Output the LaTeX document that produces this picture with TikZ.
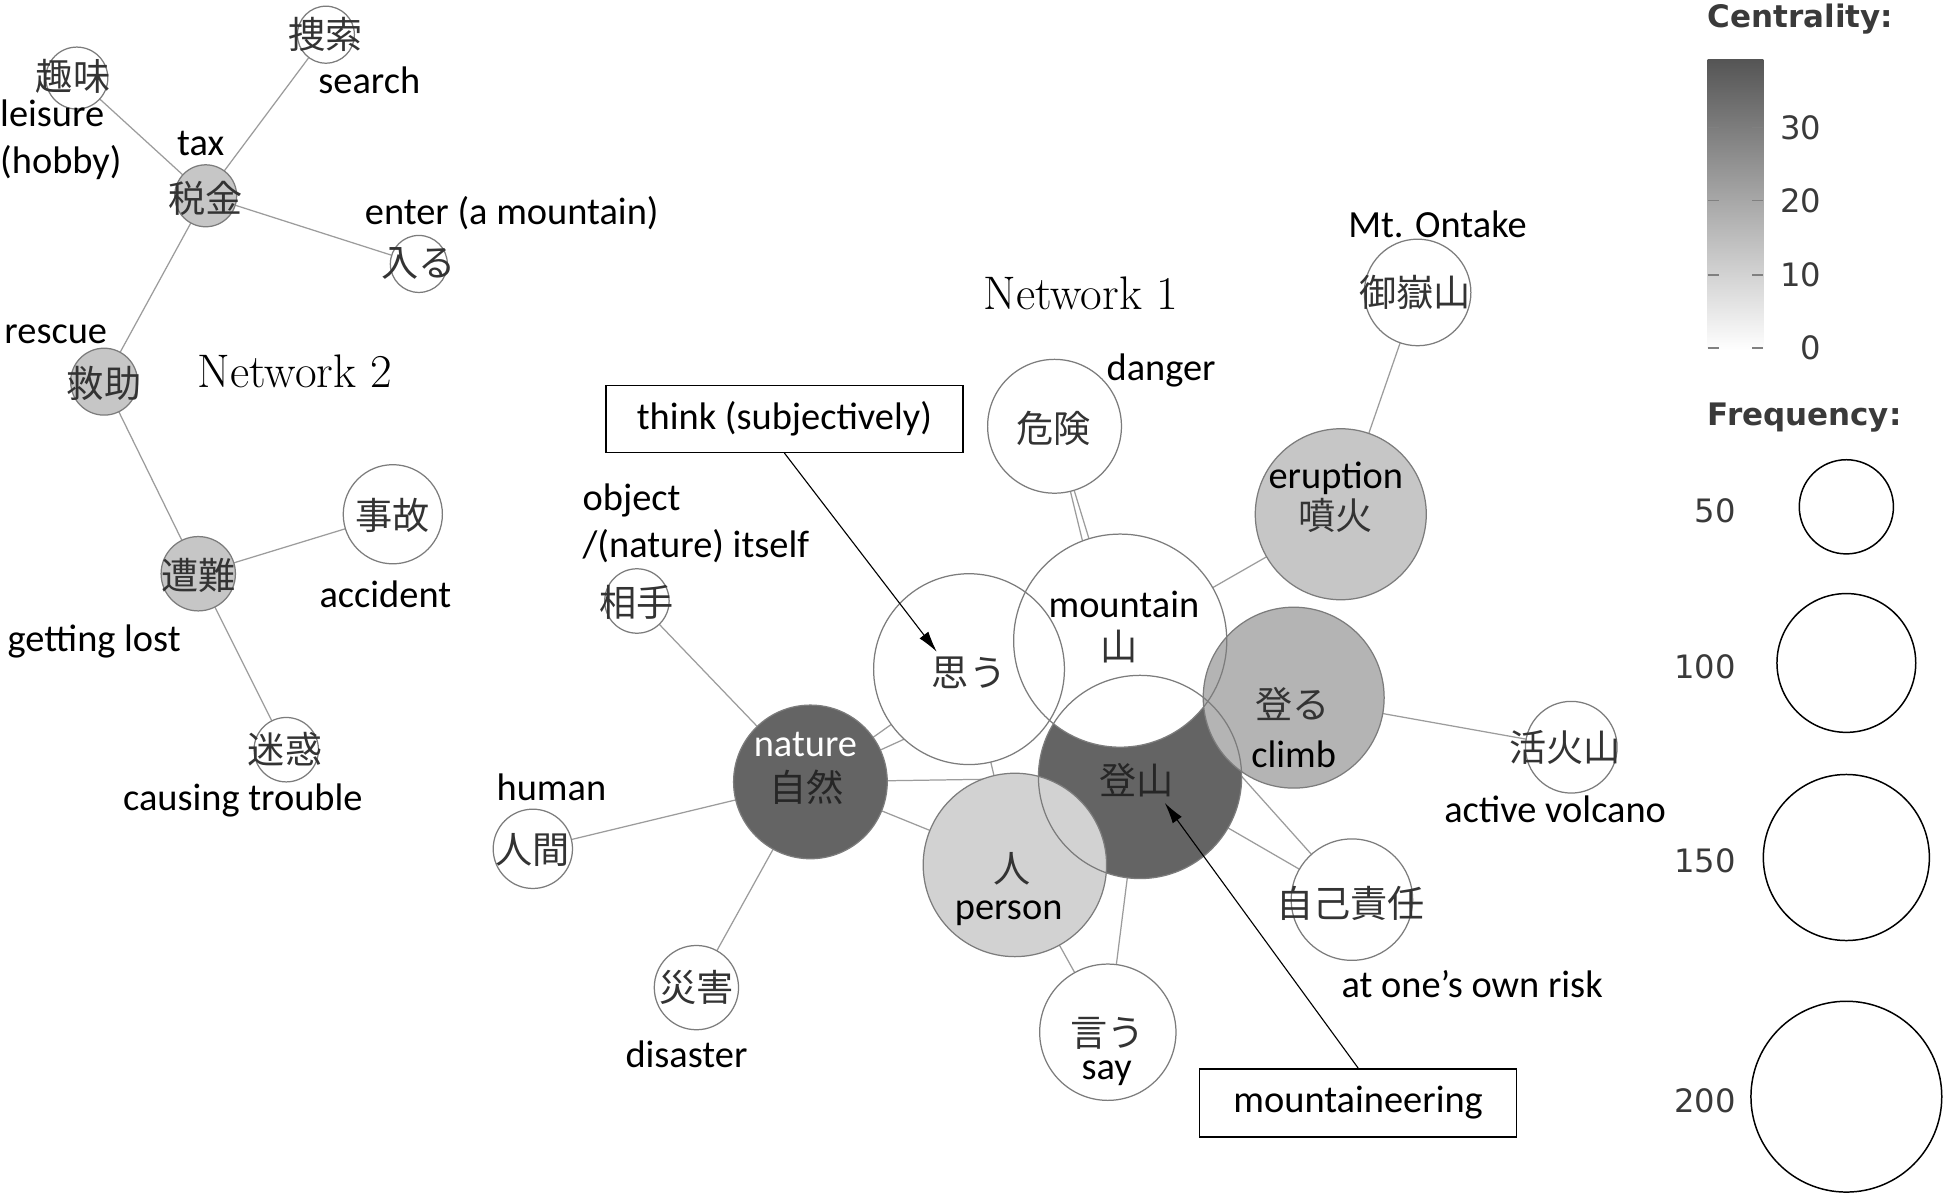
\documentclass[tikz,border=0pt]{standalone}
\usepackage{fontspec}
\usepackage{tikz}
\usetikzlibrary{arrows.meta,backgrounds}

\newfontfamily\enfont{Carlito}
\newfontfamily\jpfont{Noto Sans CJK JP}
\newfontfamily\legfont{DejaVu Sans}

\definecolor{cdark}{HTML}{646464}
\definecolor{cmid}{HTML}{B4B4B4}
\definecolor{clight}{HTML}{C6C6C6}
\definecolor{cpale}{HTML}{D2D2D2}
\definecolor{cring}{HTML}{7C7C7C}
\definecolor{clink}{HTML}{9C9C9C}
\definecolor{cbartop}{HTML}{555555}
\definecolor{clegtext}{HTML}{3A3A3A}

% word circles: name/x/y/radius/fill (later ones lie on top)
\def\wordlist{tozan/920/627/82/cdark, yama/904/517/86/white, omou/782/540/77/white,
  hito/819/698/74/cpale, noboru/1044/563/73/cmid, funka/1082/415/69/clight,
  ontake/1144/236/43/white, kiken/851/344/54/white, shizen/654/631/62/cdark,
  aite/514/485/26/white, ningen/430/685/32/white, saigai/562/797/34/white,
  iu/894/833/55/white, sekinin/1091/726/49/white, kazan/1268/603/37/white,
  sosaku/263/28/23/white, shumi/62/63/25/white, zeikin/166/158/25/clight,
  hairu/338/213/23/white, kyujo/84/308/27/clight, sonan/160/463/30/clight,
  jiko/317/415/40/white, meiwaku/231/605/26/white}

\begin{document}
\begin{tikzpicture}[x=1pt, y=-1pt,
    en/.style={font=\enfont\fontsize{31}{38}\selectfont, inner sep=0pt, align=center},
    jp/.style={font=\jpfont\fontsize{30}{36}\selectfont, inner sep=0pt, text=black!80},
    net/.style={font=\rmfamily\fontsize{38}{44}\selectfont, inner sep=0pt},
    word/.style={circle, inner sep=0pt, minimum size=2*#1},
    ring/.style={draw=cring, line width=1pt},
    link/.style={draw=clink, line width=1pt},
    callbox/.style={en, draw, fill=white, line width=1.2pt, minimum height=54},
    arr/.style={-{Latex[length=17pt, width=9pt]}, line width=0.9pt},
    tick/.style={draw=black!50, line width=1.2pt},
    legnum/.style={font=\legfont\fontsize{26}{30}\selectfont, text=clegtext, inner sep=0pt},
    legtitle/.style={font=\legfont\bfseries\fontsize{25}{30}\selectfont, text=clegtext, inner sep=0pt, anchor=west}]
\useasboundingbox (0,0) rectangle (1568,963);

% fills first, then all the rings on top
\foreach \n/\x/\y/\rad/\col in \wordlist
  \node[word=\rad, fill=\col] (\n) at (\x,\y) {};
\foreach \n/\x/\y/\rad/\col in \wordlist
  \draw[ring] (\x,\y) circle[radius=\rad];

% links behind the circles
\begin{scope}[on background layer]
\fill[white] (0,0) rectangle (1568,963);
\foreach \a/\b in {ontake/funka, kiken/yama, kiken/tozan, funka/yama, aite/shizen,
    ningen/shizen, saigai/shizen, shizen/omou, shizen/yama, shizen/tozan, shizen/hito,
    omou/hito, noboru/kazan, tozan/sekinin, yama/sekinin, tozan/iu, hito/iu,
    zeikin/sosaku, zeikin/shumi, zeikin/hairu, zeikin/kyujo, kyujo/sonan,
    sonan/jiko, sonan/meiwaku}
  \draw[link] (\a) -- (\b);
\end{scope}

% network 2
\node[jp] (w-sosaku) at (263,28) {捜索};
\node[en] (l-sosaku) at (298,65) {search};
\node[jp] (w-shumi) at (59,62) {趣味};
\node[en, align=left, anchor=west] (l-shumi) at (0,113) {leisure\\(hobby)};
\node[en] (l-zeikin) at (162,116) {tax};
\node[jp] (w-zeikin) at (166,160) {税金};
\node[en] (l-hairu) at (413,172) {enter (a mountain)};
\node[jp] (w-hairu) at (338,213) {入る};
\node[en] (l-kyujo) at (45,270) {rescue};
\node[jp] (w-kyujo) at (84,309) {救助};
\node[net] (net2) at (238,300) {Network 2};
\node[jp] (w-jiko) at (317,416) {事故};
\node[en] (l-jiko) at (311,480) {accident};
\node[jp] (w-sonan) at (160,464) {遭難};
\node[en] (l-sonan) at (76,518) {getting lost};
\node[jp] (w-meiwaku) at (230,605) {迷惑};
\node[en] (l-meiwaku) at (196,646) {causing trouble};

% network 1
\node[net] (net1) at (872,237) {Network 1};
\node[en] (l-ontake) at (1160,181) {Mt. Ontake};
\node[jp] (w-ontake) at (1142,236) {御嶽山};
\node[en] (l-kiken) at (937,299) {danger};
\node[jp] (w-kiken) at (850,346) {危険};
\node[en, align=left, anchor=west] (l-aite) at (470,422) {object\\/(nature) itself};
\node[jp] (w-aite) at (514,486) {相手};
\node[en] (l-funka) at (1078,386) {eruption};
\node[jp] (w-funka) at (1078,416) {噴火};
\node[en] (l-yama) at (907,488) {mountain};
\node[jp] (w-yama) at (903,522) {山};
\node[jp] (w-omou) at (782,543) {思う};
\node[jp] (w-noboru) at (1043,568) {登る};
\node[en] (l-noboru) at (1044,609) {climb};
\node[en, text=white] (l-shizen) at (650,601) {nature};
\node[jp, text=black!85] (w-shizen) at (651,635) {自然};
\node[jp, text=black!85] (w-tozan) at (917,630) {登山};
\node[en] (l-ningen) at (445,635) {human};
\node[jp] (w-ningen) at (430,686) {人間};
\node[jp] (w-hito) at (817,701) {人};
\node[en] (l-hito) at (814,737) {person};
\node[jp] (w-kazan) at (1263,603) {活火山};
\node[en] (l-kazan) at (1255,653) {active volcano};
\node[jp] (w-sekinin) at (1090,729) {自己責任};
\node[en] (l-sekinin) at (1188,794) {at one’s own risk};
\node[jp] (w-saigai) at (562,797) {災害};
\node[en] (l-saigai) at (554,851) {disaster};
\node[jp] (w-iu) at (894,834) {言う};
\node[en] (l-iu) at (893,866) {say};

% call-outs
\node[callbox, minimum width=288] (think) at (633,338) {think (subjectively)};
\coordinate (think-tip) at (756,526);
\draw[arr] (think.south) -- (think-tip);
\node[callbox, minimum width=256, minimum height=55] (mtn) at (1096,890) {mountaineering};
\coordinate (mtn-tip) at (940,648);
\draw[arr] (mtn.north) -- (mtn-tip);

% legend
\node[legtitle] (cent-title) at (1378,15) {Centrality:};
\shade[top color=cbartop, bottom color=white] (1378,48) rectangle (1423,283);
\foreach \v/\yy in {30/103, 20/162, 10/222, 0/281} {
  \draw[tick] (1378,\yy) -- ++(9,0) (1414,\yy) -- ++(9,0);
  \node[legnum, anchor=east] (cent-\v) at (1470,\yy) {\v};
}
\node[legtitle] (freq-title) at (1378,337) {Frequency:};
\foreach \v/\yy/\rad in {50/409/38, 100/535/56, 150/692/67, 200/885/77} {
  \node[word=\rad, draw, line width=1.2pt] (freq-\v) at (1490,\yy) {};
  \node[legnum, anchor=east] (freqnum-\v) at (1401,\yy+3) {\v};
}
\end{tikzpicture}
\end{document}
